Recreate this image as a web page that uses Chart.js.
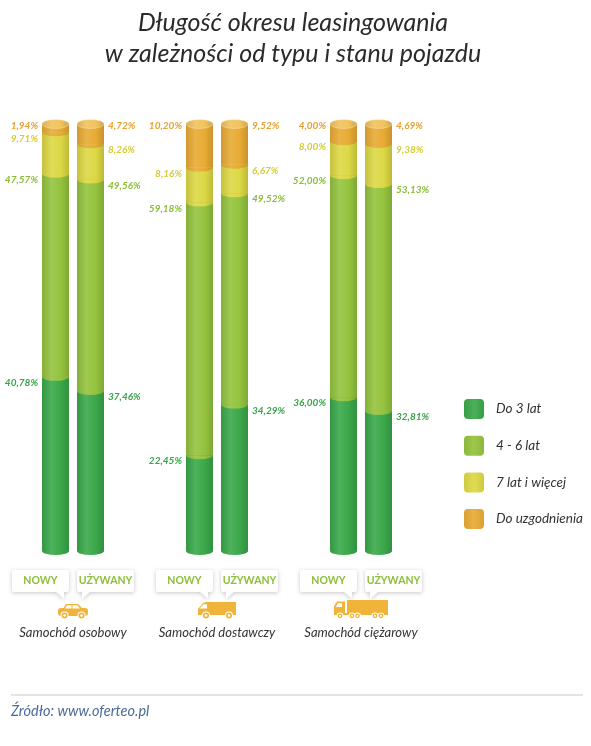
<!DOCTYPE html>
<html lang="pl">
<head>
<meta charset="utf-8">
<title>Długość okresu leasingowania</title>
<script src="https://cdn.jsdelivr.net/npm/chart.js@4.4.1/dist/chart.umd.min.js"></script>
<style>
  html, body { margin: 0; padding: 0; background: #fff; }
  canvas { display: block; }
</style>
</head>
<body>
<canvas id="leasingChart" width="591" height="746"></canvas>
<script>
const titleLines = ['Długość okresu leasingowania', 'w zależności od typu i stanu pojazdu'];
const vehicles = ['Samochód osobowy', 'Samochód dostawczy', 'Samochód ciężarowy'];
const conditions = ['NOWY', 'UŻYWANY'];
const periods = ['Do 3 lat', '4 - 6 lat', '7 lat i więcej', 'Do uzgodnienia'];
const sourceText = 'Źródło: www.oferteo.pl';

// % of contracts, one value per vehicle type
const upTo3New = [40.78, 22.45, 36.00];
const upTo3Used = [37.46, 34.29, 32.81];
const from4to6New = [47.57, 59.18, 52.00];
const from4to6Used = [49.56, 49.52, 53.13];
const over7New = [9.71, 8.16, 8.00];
const over7Used = [8.26, 6.67, 9.38];
const negotiableNew = [1.94, 10.20, 4.00];
const negotiableUsed = [4.72, 9.52, 4.69];

const barColors = ['#3aa84a', '#94c33e', '#dcd844', '#e8aa34'];
const labelColors = ['#38a548', '#8abd38', '#d5cd36', '#e8a030'];
const capColor = '#f2c35e';
const iconColor = '#f0b43a';
const calloutGreen = '#8cbe3a';

const seriesNew = [upTo3New, from4to6New, over7New, negotiableNew];
const seriesUsed = [upTo3Used, from4to6Used, over7Used, negotiableUsed];

const datasets = [];
periods.forEach((name, i) => {
    datasets.push({ label: name, data: seriesNew[i], stack: 'nowy', backgroundColor: barColors[i], period: i, side: 0 });
    datasets.push({ label: name, data: seriesUsed[i], stack: 'uzywany', backgroundColor: barColors[i], period: i, side: 1 });
});

function mix(hex, amt) {
    const n = parseInt(hex.slice(1), 16);
    let r = n >> 16, g = (n >> 8) & 255, b = n & 255;
    const t = amt > 0 ? 255 : 0, a = Math.abs(amt);
    r = Math.round(r + (t - r) * a);
    g = Math.round(g + (t - g) * a);
    b = Math.round(b + (t - b) * a);
    return 'rgb(' + r + ',' + g + ',' + b + ')';
}

function cylGradient(ctx, left, w, color) {
    const g = ctx.createLinearGradient(left, 0, left + w, 0);
    g.addColorStop(0, mix(color, -0.1));
    g.addColorStop(0.35, mix(color, 0.1));
    g.addColorStop(0.7, color);
    g.addColorStop(1, mix(color, -0.14));
    return g;
}

function fmt(v) {
    return v.toFixed(2).replace('.', ',') + '%';
}

function wheel(ctx, x, y, r) {
    ctx.fillStyle = '#fff';
    ctx.beginPath(); ctx.arc(x, y, r + 1, 0, Math.PI * 2); ctx.fill();
    ctx.fillStyle = iconColor;
    ctx.beginPath(); ctx.arc(x, y, r, 0, Math.PI * 2); ctx.fill();
    ctx.fillStyle = '#fff';
    ctx.beginPath(); ctx.arc(x, y, r * 0.45, 0, Math.PI * 2); ctx.fill();
}

function poly(ctx, pts, color) {
    ctx.fillStyle = color;
    ctx.beginPath();
    ctx.moveTo(pts[0][0], pts[0][1]);
    for (let i = 1; i < pts.length; i++) ctx.lineTo(pts[i][0], pts[i][1]);
    ctx.closePath();
    ctx.fill();
}

function drawCar(ctx, cx) {
    ctx.fillStyle = iconColor;
    ctx.beginPath(); ctx.roundRect(cx - 15, 608, 30, 8, 3); ctx.fill();
    poly(ctx, [[cx - 10, 609], [cx - 7, 604], [cx + 5, 604], [cx + 10, 609]], iconColor);
    poly(ctx, [[cx - 8, 608.5], [cx - 6, 605.3], [cx - 1.5, 605.3], [cx - 1.5, 608.5]], '#fff');
    poly(ctx, [[cx - 0.5, 608.5], [cx - 0.5, 605.3], [cx + 4.3, 605.3], [cx + 7, 608.5]], '#fff');
    wheel(ctx, cx - 8.5, 615.5, 3);
    wheel(ctx, cx + 8.5, 615.5, 3);
}

function drawVan(ctx, cx) {
    poly(ctx, [[cx - 19, 615], [cx - 19, 609], [cx - 14, 603], [cx - 11, 602], [cx + 19, 602], [cx + 19, 615]], iconColor);
    poly(ctx, [[cx - 17.5, 608.5], [cx - 13.5, 604.3], [cx - 10, 604.3], [cx - 10, 608.5]], '#fff');
    wheel(ctx, cx - 11, 615.5, 3);
    wheel(ctx, cx + 12, 615.5, 3);
}

function drawTruck(ctx, cx) {
    poly(ctx, [[cx - 27, 614], [cx - 27, 606], [cx - 24, 601.5], [cx - 16, 601.5], [cx - 16, 614]], iconColor);
    poly(ctx, [[cx - 25.5, 607], [cx - 23, 603.3], [cx - 19, 603.3], [cx - 19, 607]], '#fff');
    ctx.fillStyle = iconColor;
    ctx.fillRect(cx - 14, 600, 41, 13);
    ctx.fillRect(cx - 27, 613, 54, 2);
    [-21, -9, -3.5, 14, 20].forEach(dx => wheel(ctx, cx + dx, 615.8, 2.4));
}

const iconDrawers = [drawCar, drawVan, drawTruck];

const decorPlugin = {
    id: 'decor',
    beforeDraw(chart) {
        const ctx = chart.ctx;
        ctx.save();
        ctx.fillStyle = '#2b2b2b';
        ctx.font = 'italic 25px Lato';
        ctx.textAlign = 'center';
        ctx.textBaseline = 'middle';
        titleLines.forEach((t, i) => ctx.fillText(t, 293, 23 + i * 31));

        ctx.strokeStyle = '#e4e4e4';
        ctx.lineWidth = 2;
        ctx.beginPath(); ctx.moveTo(11, 695); ctx.lineTo(583, 695); ctx.stroke();
        ctx.fillStyle = '#4b6a99';
        ctx.font = 'italic 14.5px Lato';
        ctx.textAlign = 'left';
        ctx.fillText(sourceText, 11, 711);
        ctx.restore();
    },
    afterDatasetsDraw(chart) {
        const ctx = chart.ctx;
        const ry = 4;
        ctx.save();

        // cylinder shading, segment edges and caps
        chart.data.datasets.forEach((ds, di) => {
            const meta = chart.getDatasetMeta(di);
            meta.data.forEach(bar => {
                const w = bar.width, left = bar.x - w / 2;
                const top = Math.min(bar.y, bar.base), base = Math.max(bar.y, bar.base);
                ctx.fillStyle = cylGradient(ctx, left, w, ds.backgroundColor);
                ctx.fillRect(left, top, w, base - top);
                ctx.beginPath();
                ctx.ellipse(bar.x, base, w / 2, ry, 0, 0, Math.PI);
                ctx.fill();
                if (ds.period === periods.length - 1) {
                    ctx.fillStyle = cylGradient(ctx, left, w, capColor);
                    ctx.beginPath();
                    ctx.ellipse(bar.x, top, w / 2, ry + 0.5, 0, 0, Math.PI * 2);
                    ctx.fill();
                    ctx.strokeStyle = 'rgba(255,255,255,0.35)';
                    ctx.lineWidth = 0.8;
                    ctx.stroke();
                }
            });
        });

        // value labels
        ctx.font = 'italic bold 10px Lato';
        ctx.textBaseline = 'middle';
        chart.data.datasets.forEach((ds, di) => {
            const meta = chart.getDatasetMeta(di);
            meta.data.forEach((bar, j) => {
                const top = Math.min(bar.y, bar.base);
                const y = ds.period === periods.length - 1 ? top + 2 : top + 6;
                ctx.fillStyle = labelColors[ds.period];
                if (ds.side === 0) {
                    ctx.textAlign = 'right';
                    ctx.fillText(fmt(ds.data[j]), bar.x - bar.width / 2 - 4, y);
                } else {
                    ctx.textAlign = 'left';
                    ctx.fillText(fmt(ds.data[j]), bar.x + bar.width / 2 + 4, y);
                }
            });
        });

        // legend
        periods.forEach((name, i) => {
            const y = 409 + i * 36.7;
            const g = ctx.createLinearGradient(464, 0, 484, 0);
            g.addColorStop(0, mix(barColors[i], -0.06));
            g.addColorStop(0.5, mix(barColors[i], 0.08));
            g.addColorStop(1, mix(barColors[i], -0.06));
            ctx.fillStyle = g;
            ctx.beginPath(); ctx.roundRect(464, y - 10, 20, 20, 4); ctx.fill();
            ctx.fillStyle = '#333';
            ctx.font = 'italic 13.5px Lato';
            ctx.textAlign = 'left';
            ctx.fillText(name, 496, y);
        });

        // callouts, icons and vehicle names under each group
        const xs = chart.scales.x;
        vehicles.forEach((name, i) => {
            const gx = xs.getPixelForValue(i);
            const boxes = [
                { x: gx - 61, tip: [[gx - 17, 592], [gx - 9, 599], [gx - 9, 592]] },
                { x: gx + 4, tip: [[gx + 9, 592], [gx + 9, 599], [gx + 17, 592]] }
            ];
            boxes.forEach((b, k) => {
                ctx.save();
                ctx.shadowColor = 'rgba(0,0,0,0.22)';
                ctx.shadowBlur = 4;
                ctx.shadowOffsetY = 1;
                ctx.fillStyle = '#fff';
                ctx.beginPath();
                ctx.roundRect(b.x, 570, 57, 22, 2);
                ctx.moveTo(b.tip[0][0], b.tip[0][1]);
                ctx.lineTo(b.tip[1][0], b.tip[1][1]);
                ctx.lineTo(b.tip[2][0], b.tip[2][1]);
                ctx.fill();
                ctx.restore();
                ctx.fillStyle = calloutGreen;
                ctx.font = 'bold 10.5px Lato';
                ctx.textAlign = 'center';
                ctx.fillText(conditions[k], b.x + 28.5, 581);
            });
            iconDrawers[i](ctx, gx);
            ctx.fillStyle = '#333';
            ctx.font = 'italic 13px Lato';
            ctx.textAlign = 'center';
            ctx.fillText(name, gx, 633);
        });
        ctx.restore();
    }
};

new Chart(document.getElementById('leasingChart'), {
    type: 'bar',
    data: { labels: vehicles, datasets: datasets },
    options: {
        responsive: false,
        animation: false,
        layout: { padding: { left: 1, right: 158, top: 124, bottom: 195 } },
        datasets: { bar: { categoryPercentage: 0.486, barPercentage: 0.771, borderWidth: 0 } },
        scales: {
            x: { stacked: true, display: false },
            y: { stacked: true, display: false, min: 0, max: 100 }
        },
        plugins: {
            legend: { display: false },
            tooltip: { enabled: false },
            title: { display: false }
        }
    },
    plugins: [decorPlugin]
});
</script>
</body>
</html>
